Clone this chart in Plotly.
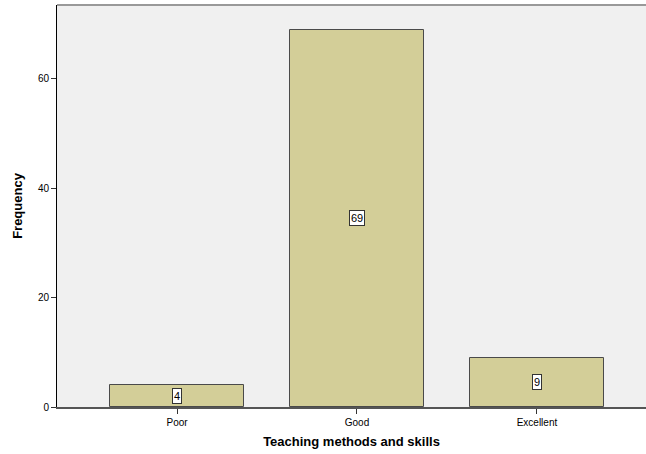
import plotly.graph_objects as go

categories = ["Poor", "Good", "Excellent"]
frequencies = [4, 69, 9]
y_ticks = [0, 20, 40, 60]

x_pos = list(range(len(categories)))

fig = go.Figure()
fig.add_trace(go.Bar(
    x=x_pos, y=frequencies, width=0.744,
    marker=dict(color="#D3CE98", line=dict(color="#4a4a4a", width=1)),
    hoverinfo="skip",
))

for xp, v in zip(x_pos, frequencies):
    fig.add_annotation(
        x=xp, y=v / 2, text=str(v), showarrow=False,
        font=dict(family="Liberation Sans, Arial", size=11, color="#000"),
        bgcolor="white", bordercolor="#333", borderwidth=1, borderpad=1,
    )

fig.add_shape(type="line", xref="paper", yref="paper", x0=0, x1=1, y0=1, y1=1,
              line=dict(color="#999999", width=2))

fig.update_layout(
    width=646, height=454,
    margin=dict(l=57, r=0, t=5, b=47),
    plot_bgcolor="#F0F0F0", paper_bgcolor="white",
    showlegend=False, bargap=0,
    font=dict(family="Liberation Sans, Arial", size=11, color="#000"),
)
fig.update_xaxes(
    range=[-0.667, 2.606], tickmode="array", tickvals=x_pos, ticktext=categories,
    showgrid=False, zeroline=False, showline=True, linecolor="#555", linewidth=1.5,
    ticks="outside", ticklen=5, tickcolor="#333", tickfont=dict(size=10),
    title=dict(text="<b>Teaching methods and skills</b>", font=dict(size=13), standoff=10),
)
fig.update_yaxes(
    range=[0, 73.5], tickmode="array", tickvals=y_ticks,
    showgrid=False, zeroline=False, showline=True, linecolor="#000", linewidth=1,
    ticks="outside", ticklen=5, tickcolor="#333", tickfont=dict(size=10),
    title=dict(text="<b>Frequency</b>", font=dict(size=13), standoff=12),
)

fig.write_html("out.html", config={"displayModeBar": False},
               post_script="document.body.style.margin='0';document.body.style.overflow='hidden';")
